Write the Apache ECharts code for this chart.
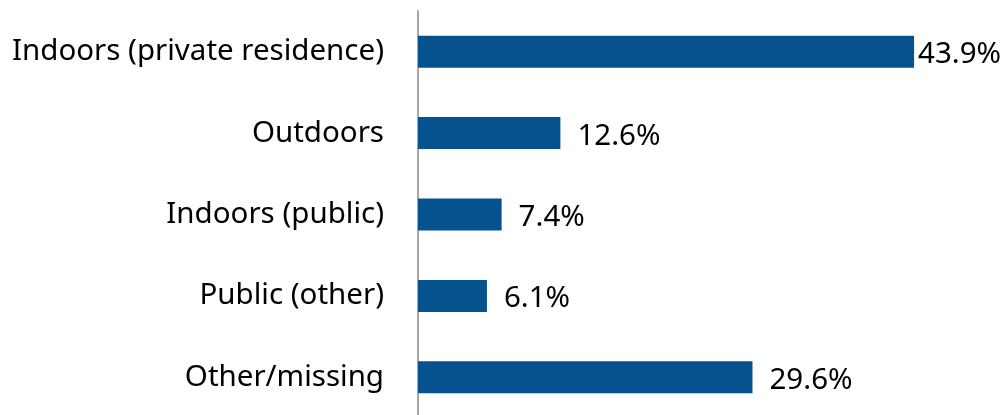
<!DOCTYPE html>
<html>
<head>
<meta charset="utf-8">
<script src="https://cdn.jsdelivr.net/npm/echarts@6/dist/echarts.min.js"></script>
<style>
  html, body { margin: 0; padding: 0; background: #fff; }
  #chart { width: 1007px; height: 415px; }
</style>
</head>
<body>
<div id="chart"></div>
<script>
// categories, top to bottom
var categories = ['Indoors (private residence)', 'Outdoors', 'Indoors (public)', 'Public (other)', 'Other/missing'];
// share in percent
var shares = [43.9, 12.6, 7.4, 6.1, 29.6];

var myChart = echarts.init(document.getElementById('chart'));
myChart.setOption({
  animation: false,
  grid: { left: 418, right: 24, top: 11, bottom: -3, outerBoundsMode: 'none', containLabel: false },
  xAxis: {
    type: 'value',
    min: 0,
    max: 50,
    show: false
  },
  yAxis: {
    type: 'category',
    inverse: true, // first category at top
    data: categories,
    axisLine: { show: true, lineStyle: { color: '#a6a6a6', width: 2 } },
    axisTick: { show: false },
    axisLabel: {
      margin: 34,
      color: '#000',
      fontSize: 29.5,
      fontFamily: 'Noto Sans'
    }
  },
  series: [{
    type: 'bar',
    // longest bar label sits tight against the bar, like the original
    data: shares.map(function (v, i) {
      return i === 0 ? { value: v, label: { distance: 4 } } : v;
    }),
    barWidth: 32,
    itemStyle: { color: '#05528e' },
    label: {
      show: true,
      position: 'right',
      distance: 17,
      offset: [0, 3],
      color: '#000',
      fontSize: 29.5,
      fontFamily: 'Noto Sans',
      formatter: function (p) { return p.value.toFixed(1) + '%'; }
    }
  }]
});
</script>
</body>
</html>
